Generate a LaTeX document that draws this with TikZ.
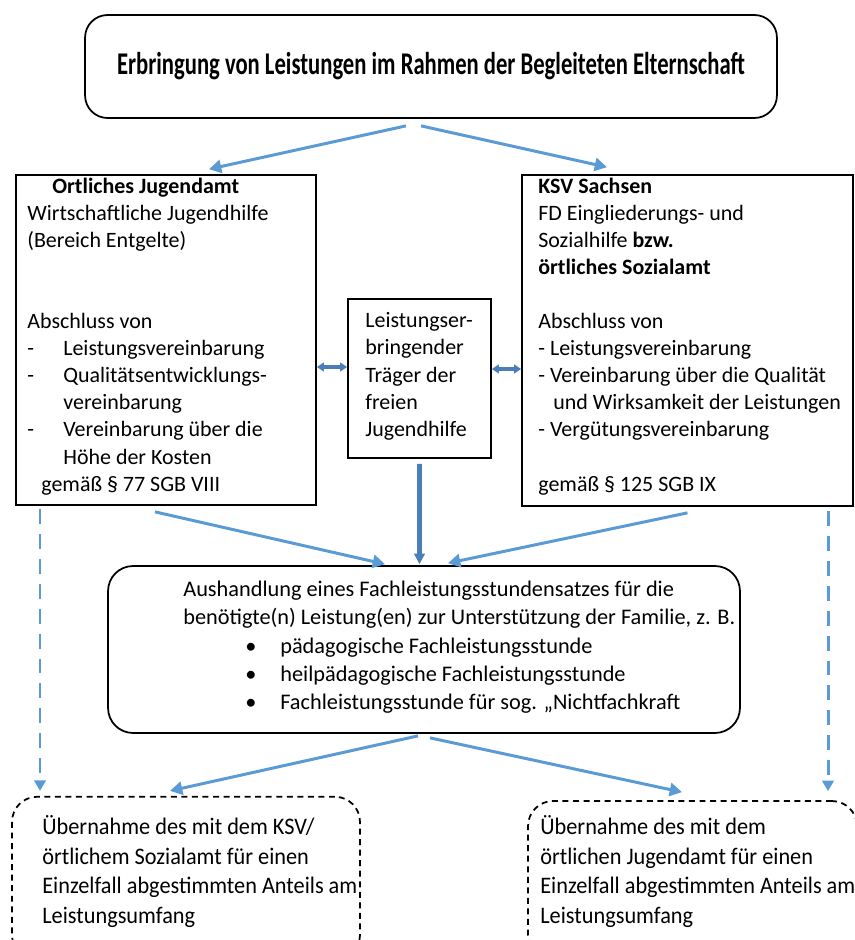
\documentclass[tikz,border=0pt]{standalone}
\usepackage{fontspec}
\setmainfont{Carlito}
\newfontfamily\narrowfont[FakeStretch=0.94]{Carlito}
\newfontfamily\titlefont[FakeStretch=0.716]{Carlito}
\usetikzlibrary{arrows.meta}
\usetikzlibrary{positioning}
\definecolor{flowblue}{HTML}{5B9BD5}
\definecolor{darkflow}{HTML}{4A7EBB}
\tikzset{
  box/.style={draw, line width=1pt, inner sep=0pt},
  roundbox/.style={box, rounded corners=0.45cm},
  dashbox/.style={box, dash pattern=on 3.4pt off 2.6pt, rounded corners=0.5cm},
  boxtext/.style={anchor=north west, inner sep=0pt, align=left, font=\fontsize{12.5}{15.4}\selectfont},
  flow/.style={flowblue, line width=1.7pt, -{Triangle[length=7pt,width=7.5pt]}},
  mainflow/.style={darkflow, line width=2.6pt, -{Triangle[length=6pt,width=6pt]}},
  both/.style={darkflow, line width=2.2pt, {Triangle[length=4pt,width=5pt]}-{Triangle[length=4pt,width=5pt]}},
  dashflow/.style={flowblue, line width=1.7pt, dash pattern=on 8.5pt off 5.7pt, -{Triangle[length=6pt,width=6.5pt]}}
}
\newcommand{\dashitem}{\makebox[0.72cm][l]{-}}
\newcommand{\firstline}{\rule{0pt}{12pt}}
\begin{document}
\begin{tikzpicture}[x=0.02cm, y=-0.02cm]
  \useasboundingbox (0,0) rectangle (855,940);
  \clip (0,0) rectangle (855,940);
  % boxes
  \node[roundbox, minimum width=13.84cm, minimum height=2.06cm] (title) at (431,66.5)
    {\titlefont\bfseries\fontsize{18}{20}\selectfont Erbringung von Leistungen im Rahmen der Begleiteten Elternschaft};
  \node[box, minimum width=6cm, minimum height=6.6cm] (jugendamt) at (166,340) {};
  \node[box, minimum width=2.86cm, minimum height=3.18cm] (traeger) at (419.5,378.5) {};
  \node[box, minimum width=6.62cm, minimum height=6.62cm] (ksv) at (687.5,340.5) {};
  \node[roundbox, rounded corners=0.5cm, minimum width=12.64cm, minimum height=3.34cm] (aushandlung) at (424,649.5) {};
  \node[dashbox, minimum width=6.96cm, minimum height=3.27cm] (anteil-ksv) at (186,878.5) {};
  \node[dashbox, minimum width=6.58cm, minimum height=3.18cm] (anteil-ja) at (692.5,880.5) {};
  % texts
  \node[boxtext] (jugendamt-text) at (27,172)
    {\firstline\hspace*{0.5cm}\textbf{Ortliches Jugendamt}\\
     Wirtschaftliche Jugendhilfe\\
     (Bereich Entgelte)\\
     \mbox{}\\
     \mbox{}\\
     Abschluss von\\
     \dashitem Leistungsvereinbarung\\
     \dashitem Qualitätsentwicklungs-\\
     \hspace*{0.72cm}vereinbarung\\
     \dashitem Vereinbarung über die\\
     \hspace*{0.72cm}Höhe der Kosten\\
     \hspace*{0.28cm}gemäß § 77 SGB VIII};
  \node[boxtext] (traeger-text) at (365,306.5)
    {\firstline Leistungser-\\ bringender\\ Träger der\\ freien\\ Jugendhilfe};
  \node[boxtext] (ksv-text) at (538,172)
    {\firstline\textbf{KSV Sachsen}\\
     FD Eingliederungs- und\\
     Sozialhilfe \textbf{bzw.}\\
     \textbf{örtliches Sozialamt}\\
     \mbox{}\\
     Abschluss von\\
     - Leistungsvereinbarung\\
     - Vereinbarung über die Qualität\\
     \hspace*{0.3cm}und Wirksamkeit der Leistungen\\
     - Vergütungsvereinbarung\\
     \mbox{}\\
     gemäß § 125 SGB IX};
  \node[boxtext, font=\fontsize{12.7}{16.1}\selectfont] (aushandlung-text) at (183,575)
    {\firstline Aushandlung eines Fachleistungsstundensatzes für die\\
     benötigte(n) Leistung(en) zur Unterstützung der Familie, z. B.\\
     \hspace*{1.24cm}\makebox[0.7cm][l]{•}pädagogische Fachleistungsstunde\\
     \hspace*{1.24cm}\makebox[0.7cm][l]{•}heilpädagogische Fachleistungsstunde\\
     \hspace*{1.24cm}\makebox[0.7cm][l]{•}Fachleistungsstunde für sog. „Nichtfachkraft};
  \node[boxtext, font=\narrowfont\fontsize{13.5}{16.8}\selectfont] (anteil-ksv-text) at (42,813.5)
    {\firstline Übernahme des mit dem KSV/\\
     örtlichem Sozialamt für einen\\
     Einzelfall abgestimmten Anteils am\\
     Leistungsumfang};
  \node[boxtext, font=\narrowfont\fontsize{13.5}{16.8}\selectfont] (anteil-ja-text) at (540,813.5)
    {\firstline Übernahme des mit dem\\
     örtlichen Jugendamt für einen\\
     Einzelfall abgestimmten Anteils am\\
     Leistungsumfang};
  % connectors
  \draw[flow] ([shift={(-25,7)}]title.south) -- ([shift={(43,-5)}]jugendamt.north);
  \draw[flow] ([shift={(-10,7)}]title.south) -- ([shift={(-80.5,-7)}]ksv.north);
  \draw[both] ([shift={(0,27)}]jugendamt.east) -- ([shift={(0,-11.5)}]traeger.west);
  \draw[both] ([shift={(0,-9.5)}]traeger.east) -- ([shift={(0,28.5)}]ksv.west);
  \draw[mainflow] ([shift={(0,5)}]traeger.south) -- ([shift={(-4.5,-1)}]aushandlung.north);
  \draw[flow] ([shift={(-11,6)}]jugendamt.south) -- ([shift={(-39,-1)}]aushandlung.north);
  \draw[flow] ([shift={(0,6)}]ksv.south) -- ([shift={(24,-2)}]aushandlung.north);
  \draw[dashflow] ([shift={(-126,3)}]jugendamt.south) -- ([shift={(-146,-5)}]anteil-ksv.north);
  \draw[dashflow] ([shift={(140.5,4)}]ksv.south) -- ([shift={(135.5,-9)}]anteil-ja.north);
  \draw[flow] ([shift={(-6,2)}]aushandlung.south) -- ([shift={(-16,-5)}]anteil-ksv.north);
  \draw[flow] ([shift={(6,4)}]aushandlung.south) -- ([shift={(-10.5,-8)}]anteil-ja.north);
\end{tikzpicture}
\end{document}
